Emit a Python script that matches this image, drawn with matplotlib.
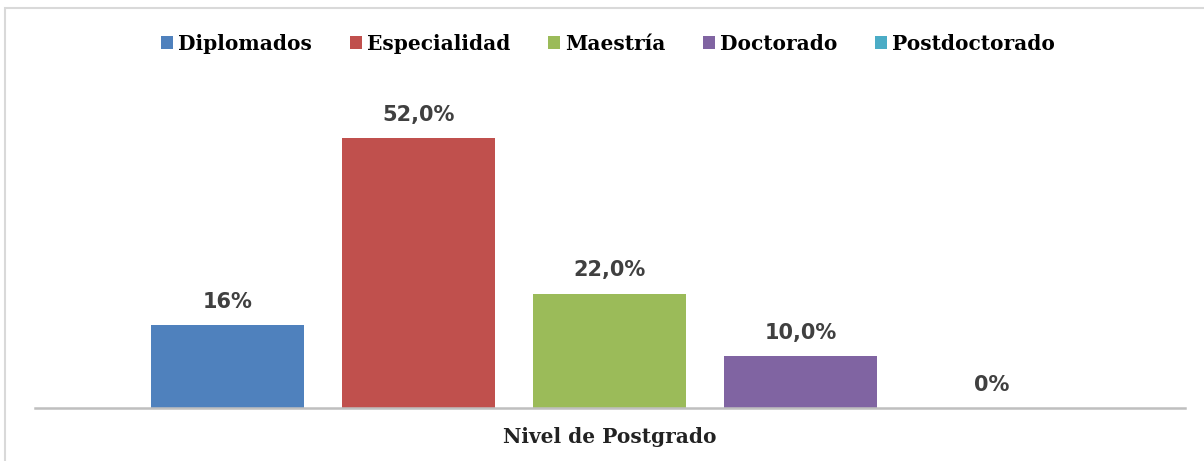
import matplotlib.pyplot as plt
from matplotlib.patches import Rectangle, Patch

categories = ['Diplomados', 'Especialidad', 'Maestría', 'Doctorado', 'Postdoctorado']
values = [16, 52, 22, 10, 0]
value_labels = ['16%', '52,0%', '22,0%', '10,0%', '0%']
colors = ['#4F81BD', '#C0504D', '#9BBB59', '#8064A2', '#4BACC6']

serif = ['DejaVu Serif']
sans = ['DejaVu Sans']

fig = plt.figure(figsize=(12.04, 4.61), dpi=100)
ax = fig.add_axes([0.029, 0.115, 0.955, 0.722])

x = list(range(len(categories)))
bars = ax.bar(x, values, width=0.8, color=colors)

for xi, v, lab in zip(x, values, value_labels):
    ax.text(xi, v + 2.6, lab, ha='center', va='bottom', family=sans,
            fontsize=15, fontweight='bold', color='#404040')

ax.set_xlim(2.0 - 3.01, 2.0 + 3.01)
ax.set_ylim(0, 64.2)
ax.set_yticks([])
ax.set_xticks([])
for s in ['top', 'right', 'left']:
    ax.spines[s].set_visible(False)
ax.spines['bottom'].set_color('#bfbfbf')
ax.spines['bottom'].set_linewidth(1.8)

ax.set_xlabel('Nivel de Postgrado', family=serif, fontsize=14.5,
              fontweight='bold', color='#222222', labelpad=14)

handles = [Patch(facecolor=c) for c in colors]
fig.legend(handles, categories, loc='center', bbox_to_anchor=(0.505, 0.905),
           ncol=5, frameon=False, handlelength=0.6, handleheight=0.6,
           handletextpad=0.25, columnspacing=1.87,
           prop={'family': serif, 'size': 14.5, 'weight': 'bold'})

# outer chart frame
fig.patches.append(Rectangle((5 / 1204, -0.1), 1.2, 1.1 - 8 / 461,
                             transform=fig.transFigure, fill=False,
                             edgecolor='#d9d9d9', linewidth=1.5))

fig.savefig('out.png', dpi=100)
